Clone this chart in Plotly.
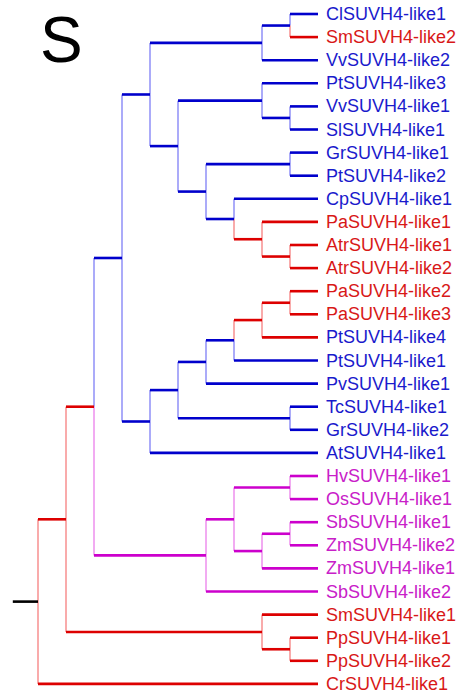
import plotly.graph_objects as go

# ---- data -------------------------------------------------------------
# Tree topology (Newick); internal node labels give branch colour code
newick = ("(((((((ClSUVH4-like1,SmSUVH4-like2)b,VvSUVH4-like2)b,"
          "((PtSUVH4-like3,(VvSUVH4-like1,SlSUVH4-like1)b)b,"
          "((GrSUVH4-like1,PtSUVH4-like2)b,(CpSUVH4-like1,(PaSUVH4-like1,"
          "(AtrSUVH4-like1,AtrSUVH4-like2)r)r)b)b)b)b,"
          "((((((PaSUVH4-like2,PaSUVH4-like3)r,PtSUVH4-like4)r,PtSUVH4-like1)b,"
          "PvSUVH4-like1)b,(TcSUVH4-like1,GrSUVH4-like2)b)b,AtSUVH4-like1)b)b,"
          "(((HvSUVH4-like1,OsSUVH4-like1)m,((SbSUVH4-like1,ZmSUVH4-like2)m,"
          "ZmSUVH4-like1)m)m,SbSUVH4-like2)m)r,"
          "(SmSUVH4-like1,(PpSUVH4-like1,PpSUVH4-like2)r)r)r,CrSUVH4-like1)k;")

leaf_names = ["ClSUVH4-like1", "SmSUVH4-like2", "VvSUVH4-like2", "PtSUVH4-like3",
              "VvSUVH4-like1", "SlSUVH4-like1", "GrSUVH4-like1", "PtSUVH4-like2",
              "CpSUVH4-like1", "PaSUVH4-like1", "AtrSUVH4-like1", "AtrSUVH4-like2",
              "PaSUVH4-like2", "PaSUVH4-like3", "PtSUVH4-like4", "PtSUVH4-like1",
              "PvSUVH4-like1", "TcSUVH4-like1", "GrSUVH4-like2", "AtSUVH4-like1",
              "HvSUVH4-like1", "OsSUVH4-like1", "SbSUVH4-like1", "ZmSUVH4-like2",
              "ZmSUVH4-like1", "SbSUVH4-like2", "SmSUVH4-like1", "PpSUVH4-like1",
              "PpSUVH4-like2", "CrSUVH4-like1"]
# colour code of each leaf's branch and of its label
leaf_branch = ["b", "r", "b", "b", "b", "b", "b", "b", "b", "r", "r", "r",
               "r", "r", "r", "b", "b", "b", "b", "b",
               "m", "m", "m", "m", "m", "m", "r", "r", "r", "r"]
leaf_label = ["b", "r", "b", "b", "b", "b", "b", "b", "b", "r", "r", "r",
              "r", "r", "b", "b", "b", "b", "b", "b",
              "m", "m", "m", "m", "m", "m", "r", "r", "r", "r"]
panel_letter = "S"

# ---- styles -----------------------------------------------------------
H_COL = {"b": "#0000cc", "r": "#dd0000", "m": "#cc00cc", "k": "#000000"}
V_COL = {"b": "rgba(40,40,240,0.6)", "r": "rgba(240,40,40,0.6)",
         "m": "rgba(220,40,220,0.6)", "k": "#000000"}
T_COL = {"b": "#1a1acc", "r": "#d81818", "m": "#c820c8"}
FONT = "Liberation Sans, Arial, sans-serif"


# ---- parse Newick -----------------------------------------------------
def parse(s):
    pos = 0

    def node():
        nonlocal pos
        if s[pos] == "(":
            pos += 1
            kids = [node()]
            while s[pos] == ",":
                pos += 1
                kids.append(node())
            pos += 1  # ')'
            start = pos
            while s[pos] not in ",();":
                pos += 1
            return {"kids": kids, "col": s[start:pos]}
        start = pos
        while s[pos] not in ",();":
            pos += 1
        return {"name": s[start:pos], "kids": []}
    root = node()
    assert s[pos] == ";", "Newick not fully parsed"
    return root


tree = parse(newick)
leaf_idx = {n: i for i, n in enumerate(leaf_names)}


def height(n):
    if not n["kids"]:
        return 0
    return 1 + max(height(k) for k in n["kids"])


H_ROOT = height(tree)


def layout(n):
    n["h"] = height(n)
    n["x"] = H_ROOT - n["h"]
    if not n["kids"]:
        i = leaf_idx[n["name"]]
        n["y"] = i
        n["col"] = leaf_branch[i]
    else:
        for k in n["kids"]:
            layout(k)
        n["y"] = (n["kids"][0]["y"] + n["kids"][-1]["y"]) / 2


layout(tree)

hx = {c: [] for c in H_COL}
hy = {c: [] for c in H_COL}
vx = {c: [] for c in H_COL}
vy = {c: [] for c in H_COL}


def collect(n):
    for k in n["kids"]:
        c = k["col"]
        vx[c] += [n["x"], n["x"], None]
        vy[c] += [n["y"], k["y"], None]
        hx[c] += [n["x"], k["x"], None]
        hy[c] += [k["y"], k["y"], None]
        collect(k)


collect(tree)
# root stub
hx["k"] += [tree["x"] - 0.9, tree["x"], None]
hy["k"] += [tree["y"], tree["y"], None]

fig = go.Figure()
for c in H_COL:
    if vx[c]:
        fig.add_trace(go.Scatter(x=vx[c], y=vy[c], mode="lines",
                                 line=dict(color=V_COL[c], width=1.3),
                                 hoverinfo="skip", showlegend=False))
for c in H_COL:
    if hx[c]:
        fig.add_trace(go.Scatter(x=hx[c], y=hy[c], mode="lines",
                                 line=dict(color=H_COL[c], width=2.6),
                                 hoverinfo="skip", showlegend=False))

for i, name in enumerate(leaf_names):
    fig.add_annotation(x=H_ROOT, y=i, text=name, showarrow=False,
                       xanchor="left", yanchor="middle", xshift=6,
                       font=dict(family=FONT, size=18, color=T_COL[leaf_label[i]]))

fig.add_annotation(x=38 / 465, y=1 - 2 / 696, xref="paper", yref="paper",
                   text=panel_letter, showarrow=False, xanchor="left", yanchor="top",
                   font=dict(family=FONT, size=64, color="black"))

px_per_x = 28.0
px_per_y = 23.1
x0_px, y0_px = 38.0, 14.0
fig.update_layout(
    width=465, height=696,
    margin=dict(l=0, r=0, t=0, b=0),
    paper_bgcolor="white", plot_bgcolor="white",
    xaxis=dict(range=[-x0_px / px_per_x, (465 - x0_px) / px_per_x],
               visible=False, fixedrange=True),
    yaxis=dict(range=[(696 - y0_px) / px_per_y, -y0_px / px_per_y],
               visible=False, fixedrange=True),
)
fig.write_html("out.html", config={"displayModeBar": False},
               post_script="document.body.style.margin='0px';"
                           "document.body.style.overflow='hidden';")
